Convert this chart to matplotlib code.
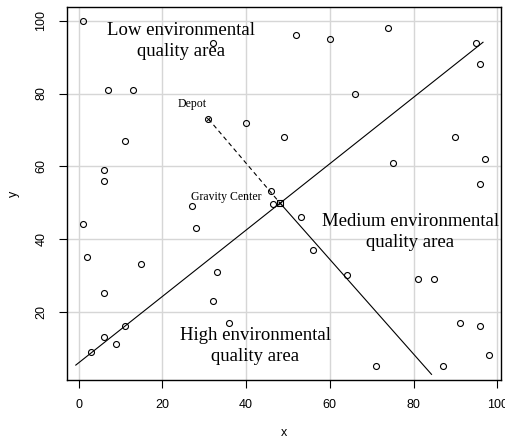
import matplotlib
matplotlib.use("Agg")
import matplotlib.pyplot as plt

plt.rcParams["font.family"] = ["Liberation Sans", "DejaVu Sans"]

# customer points
xs = [1, 32, 52, 60, 74, 95, 96, 7, 13, 66, 40, 11, 49, 90, 97, 75, 6, 6, 96,
      46, 46.4, 27, 1, 28, 53, 56, 2, 15, 33, 64, 81, 85, 6, 32, 36, 91, 96,
      11, 6, 9, 3, 98, 71, 87]
ys = [100, 94, 96, 95, 98, 94, 88, 81, 81, 80, 72, 67, 68, 68, 62, 61, 59, 56,
      55, 53.2, 49.6, 49, 44, 43, 46, 37, 35, 33, 31, 30, 29, 29, 25, 23, 17,
      17, 16, 16, 13, 11, 9, 8, 5, 5]

depot = (31, 73)
gravity = (48, 50)

# separation line and direction line
split_x = [-0.7, 96.6]
split_y = [5.3, 94.1]
dir_x = [48, 84.3]
dir_y = [50, 2.75]

xticks = [0, 20, 40, 60, 80, 100]
yticks = [20, 40, 60, 80, 100]

fig = plt.figure(figsize=(5.06, 4.38), dpi=100)
ax = fig.add_axes([67/506, 58/438, (501-67)/506, (380-7)/438])
ax.set_xlim(-2.8, 100.9)
ax.set_ylim(1.2, 103.8)

for t in xticks:
    ax.axvline(t, color="#d6d6d6", lw=1.0, zorder=0)
for t in yticks:
    ax.axhline(t, color="#d6d6d6", lw=1.0, zorder=0)

ax.plot(xs, ys, linestyle="none", marker="o", ms=4.3, mfc="none", mec="black", mew=0.8)
ax.plot([depot[0]], [depot[1]], linestyle="none", marker="o", ms=4.3, mfc="none", mec="black", mew=0.8)
ax.plot([depot[0]], [depot[1]], linestyle="none", marker="x", ms=3, mec="black", mew=0.6)
ax.plot([gravity[0]], [gravity[1]], linestyle="none", marker="s", ms=4, mfc="none", mec="black", mew=0.8)
ax.plot([gravity[0]], [gravity[1]], linestyle="none", marker="x", ms=3, mec="black", mew=0.6)

ax.plot(split_x, split_y, color="black", lw=0.8)
ax.plot(dir_x, dir_y, color="black", lw=0.8)
ax.plot([depot[0], gravity[0]], [depot[1], gravity[1]], color="black", lw=0.8, ls=(0, (4, 3)))

serif = "Liberation Serif"
ax.text(24.4, 94.5, "Low environmental\nquality area", ha="center", va="center",
        fontsize=13.5, family=serif, linespacing=1.3)
ax.text(79.2, 41.9, "Medium environmental\nquality area", ha="center", va="center",
        fontsize=13.5, family=serif, linespacing=1.3)
ax.text(42.2, 10.6, "High environmental\nquality area", ha="center", va="center",
        fontsize=13.5, family=serif, linespacing=1.3)
ax.text(27.0, 77.2, "Depot", ha="center", va="center", fontsize=8.5, family=serif)
ax.text(35.3, 51.5, "Gravity Center", ha="center", va="center", fontsize=8.5, family=serif)

ax.set_xticks(xticks)
ax.set_yticks(yticks)
ax.set_xticklabels([str(t) for t in xticks], fontsize=9)
ax.set_yticklabels([str(t) for t in yticks], fontsize=9, rotation=90, va="center")
ax.tick_params(direction="out", length=6, width=0.8, pad=8)
ax.set_xlabel("x", fontsize=9, labelpad=11)
ax.set_ylabel("y", fontsize=9, labelpad=11)
for s in ax.spines.values():
    s.set_linewidth(1.0)
    s.set_color("black")

fig.savefig("out.png", dpi=100)
